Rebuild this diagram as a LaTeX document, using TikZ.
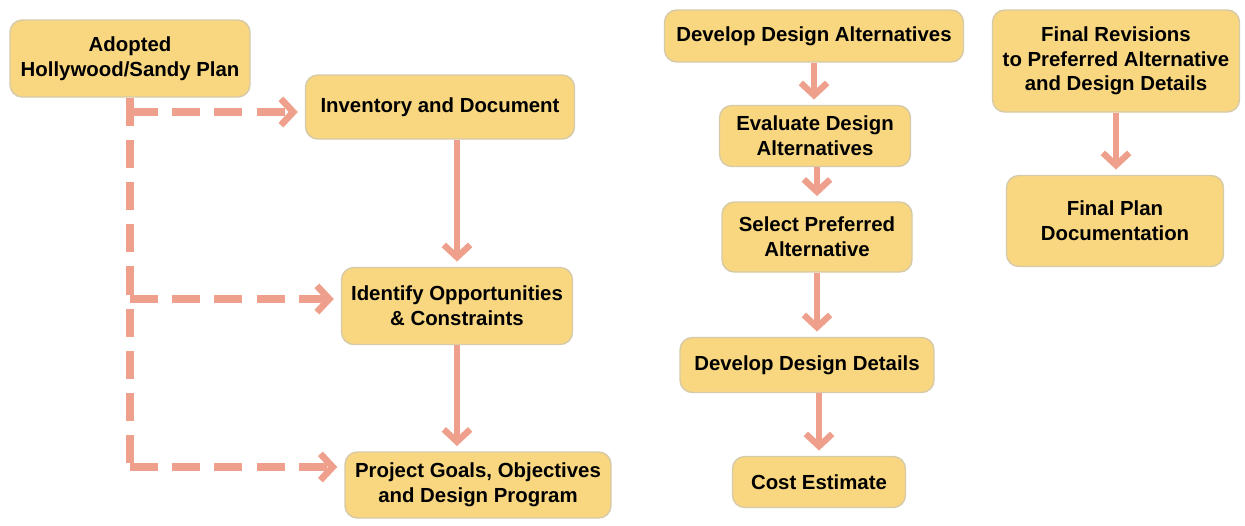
\documentclass[tikz,border=0pt]{standalone}
\usepackage{fontspec}
\setmainfont{Liberation Sans}
\usepackage{xcolor}
\usepackage{tikz}
\usetikzlibrary{arrows.meta,positioning,calc}
\definecolor{boxfill}{RGB}{248,215,128}
\definecolor{boxedge}{RGB}{215,202,168}
\definecolor{salmon}{RGB}{238,160,140}
\begin{document}
\begin{tikzpicture}[
          stage/.style={draw=boxedge,fill=boxfill,rounded corners=7pt,line width=0.8pt,
                        inner sep=0pt,align=center,
                        font=\bfseries\fontsize{11.6}{14}\selectfont},
          flow/.style={draw=salmon,line width=3.4pt,
                       -{Straight Barb[length=7pt,width=15pt,line width=3.6pt]},shorten >=3pt},
          feed/.style={draw=salmon,line width=4pt,dash pattern=on 16pt off 8pt},
          feedto/.style={feed,-{Straight Barb[length=7pt,width=15pt,line width=3.8pt]},shorten >=4pt}]
        \useasboundingbox (0,0) rectangle (24.9,-10.5);
        % left column
        \node[stage,minimum width=4.8cm,minimum height=1.54cm]  (adopt) at (2.60,-1.17) {Adopted\\Hollywood/Sandy Plan};
        \node[stage,minimum width=5.38cm,minimum height=1.28cm] (inv)   at (8.80,-2.14) {Inventory and Document};
        \node[stage,minimum width=4.62cm,minimum height=1.54cm] (ident) at (9.14,-6.12) {Identify Opportunities\\\& Constraints};
        \node[stage,minimum width=5.32cm,minimum height=1.32cm] (goals) at (9.56,-9.70) {Project Goals, Objectives\\and Design Program};
        % middle column
        \node[stage,minimum width=5.98cm,minimum height=1.04cm] (devalt) at (16.28,-0.72) {Develop Design Alternatives};
        \node[stage,minimum width=3.82cm,minimum height=1.22cm] (evalt)  at (16.30,-2.72) {Evaluate Design\\Alternatives};
        \node[stage,minimum width=3.80cm,minimum height=1.40cm] (pref)   at (16.34,-4.74) {Select Preferred\\Alternative};
        \node[stage,minimum width=5.08cm,minimum height=1.10cm] (detail) at (16.14,-7.30) {Develop Design Details};
        \node[stage,minimum width=3.46cm,minimum height=1.02cm] (cost)   at (16.38,-9.64) {Cost Estimate};
        % right column
        \node[stage,minimum width=4.94cm,minimum height=2.04cm] (finrev)  at (22.32,-1.22) {Final Revisions\\to Preferred Alternative\\and Design Details};
        \node[stage,minimum width=4.34cm,minimum height=1.82cm] (finplan) at (22.30,-4.42) {Final Plan\\Documentation};
        % dashed feeds
        \coordinate (j1) at (2.60,-2.24);
        \coordinate (j2) at (2.60,-5.98);
        \coordinate (j3) at (2.60,-9.34);
        \draw[feed] (adopt.south) -- (j3);
        \draw[feedto] (j1) -- (j1 -| inv.west);
        \draw[feedto] (j2) -- (j2 -| ident.west);
        \draw[feedto] (j3) -- (j3 -| goals.west);
        % solid flows
        \draw[flow] (inv.south -| ident.north) -- (ident.north);
        \draw[flow] (ident.south) -- (ident.south |- goals.north);
        \draw[flow] (devalt.south) -- (devalt.south |- evalt.north);
        \draw[flow] (evalt.south -| pref.north) -- (pref.north);
        \draw[flow] (pref.south) -- (pref.south |- detail.north);
        \draw[flow] (detail.south -| cost.north) -- (cost.north);
        \draw[flow] (finrev.south) -- (finrev.south |- finplan.north);
      \end{tikzpicture}
\end{document}
